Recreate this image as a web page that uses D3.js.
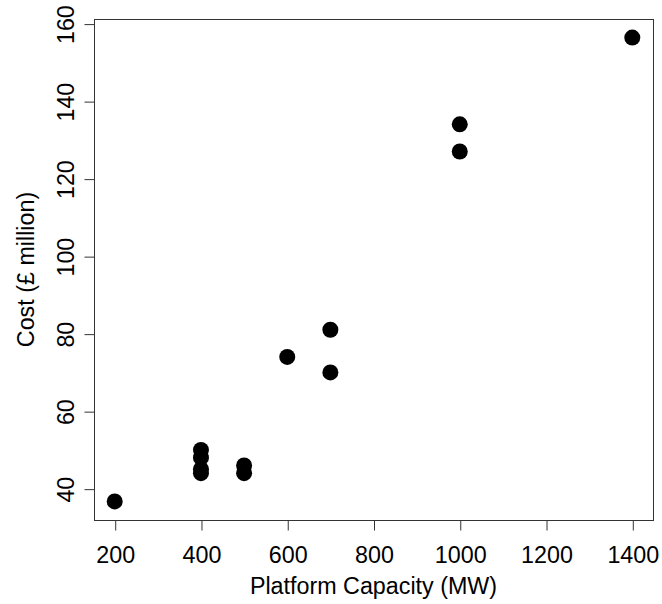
<!DOCTYPE html>
<html>
<head>
<meta charset="utf-8">
<script src="https://d3js.org/d3.v7.min.js"></script>
<style>
  body { margin: 0; background: #fff; }
  text { font-family: "Liberation Sans", Arial, sans-serif; fill: #000; }
</style>
</head>
<body>
<div id="chart"></div>
<script>
// platform capacity (MW) vs cost (£ million)
const capacity = [200, 400, 400, 400, 400, 500, 500, 600, 700, 700, 1000, 1000, 1400];
const cost = [36.7, 50, 48, 45, 44, 46, 44, 74, 81, 70, 134, 127, 156.4];
const xTicks = [200, 400, 600, 800, 1000, 1200, 1400];
const yTicks = [40, 60, 80, 100, 120, 140, 160];

const width = 662, height = 604;
const margin = {left: 94, right: 9, top: 19, bottom: 84};
const fontSize = 23.3;

const svg = d3.select("#chart").append("svg")
    .attr("width", width)
    .attr("height", height);

// R-style 4% padding on the data range
function padded(vals) {
    const [lo, hi] = d3.extent(vals);
    const p = (hi - lo) * 0.04;
    return [lo - p, hi + p];
}

const x = d3.scaleLinear().domain(padded(capacity)).range([margin.left, width - margin.right]);
const y = d3.scaleLinear().domain(padded(cost)).range([height - margin.bottom, margin.top]);

const axisColor = "#333";

// frame
svg.append("rect")
    .attr("x", margin.left + 0.5)
    .attr("y", margin.top + 0.5)
    .attr("width", width - margin.left - margin.right)
    .attr("height", height - margin.top - margin.bottom)
    .attr("fill", "none")
    .attr("stroke", axisColor);

// x axis
const xAxis = svg.append("g")
    .attr("transform", `translate(0.5,${height - margin.bottom + 0.5})`)
    .call(d3.axisBottom(x).tickValues(xTicks).tickSize(10).tickFormat(d3.format("d")));
xAxis.select(".domain").attr("d", `M${x(200)},0H${x(1400)}`).attr("stroke", axisColor);
xAxis.selectAll("line").attr("stroke", axisColor);
xAxis.selectAll("text")
    .attr("font-size", fontSize)
    .attr("font-family", null)
    .attr("y", 42).attr("dy", null);

// y axis
const yAxis = svg.append("g")
    .attr("transform", `translate(${margin.left + 0.5},0.5)`)
    .call(d3.axisLeft(y).tickValues(yTicks).tickSize(10).tickFormat(d3.format("d")));
yAxis.select(".domain").attr("d", `M0,${y(40)}V${y(160)}`).attr("stroke", axisColor);
yAxis.selectAll("line").attr("stroke", axisColor);
yAxis.selectAll("text")
    .attr("font-size", fontSize)
    .attr("font-family", null)
    .attr("x", null).attr("dy", null)
    .attr("text-anchor", "middle")
    .attr("transform", "translate(-21,0) rotate(-90)");

// axis titles
svg.append("text")
    .attr("x", (margin.left + width - margin.right) / 2)
    .attr("y", 594)
    .attr("text-anchor", "middle")
    .attr("font-size", fontSize)
    .text("Platform Capacity (MW)");

svg.append("text")
    .attr("transform", `translate(34,${(margin.top + height - margin.bottom) / 2}) rotate(-90)`)
    .attr("text-anchor", "middle")
    .attr("font-size", fontSize)
    .text("Cost (£ million)");

// points
svg.append("g")
    .selectAll("circle")
    .data(capacity.map((c, i) => ({c, v: cost[i]})))
    .join("circle")
    .attr("cx", d => x(d.c))
    .attr("cy", d => y(d.v))
    .attr("r", 8)
    .attr("fill", "#000");
</script>
</body>
</html>
